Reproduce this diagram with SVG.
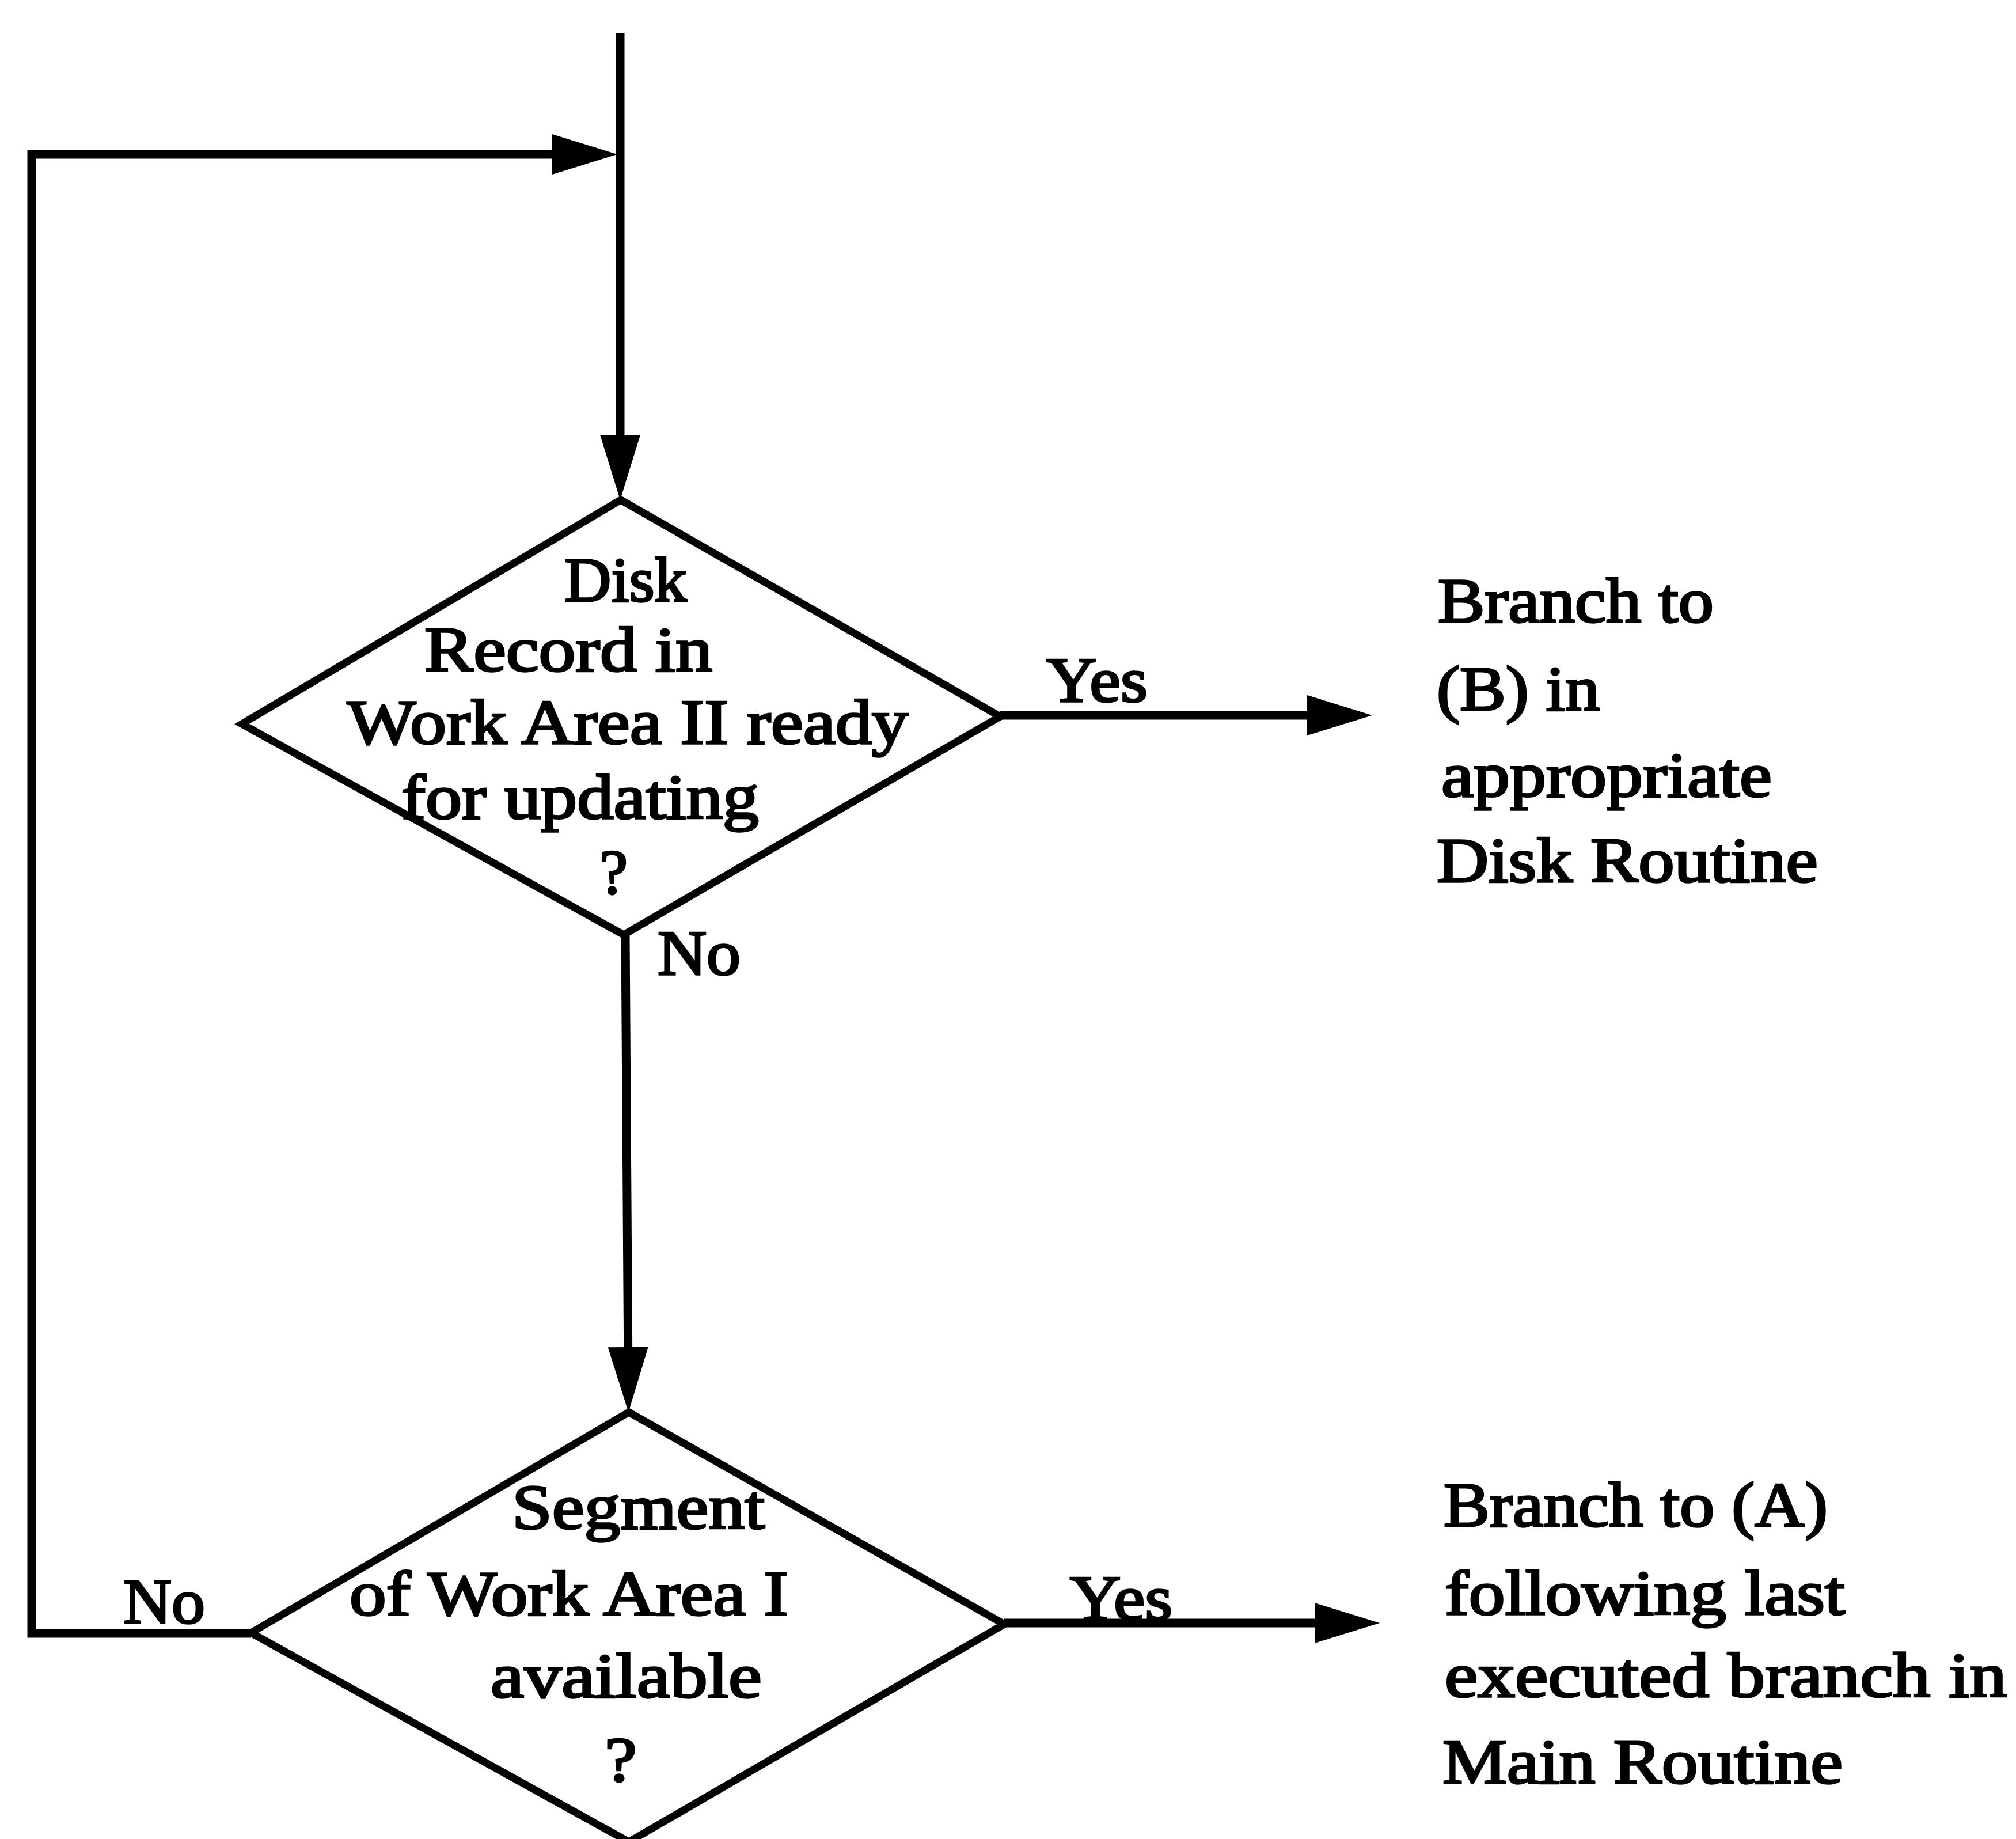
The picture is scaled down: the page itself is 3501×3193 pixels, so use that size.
<svg xmlns="http://www.w3.org/2000/svg" width="3501" height="3193" viewBox="0 0 3501 3193">
<style>
.bg{fill:#fff}
.dia{fill:none;stroke:#000;stroke-width:13;stroke-linejoin:miter}
.con{fill:none;stroke:#000;stroke-width:15;stroke-linecap:butt;stroke-linejoin:miter}
text{font-family:"Liberation Serif","Times New Roman",serif;font-size:110px;fill:#000;stroke:#000;stroke-width:3.5}
</style>
<defs>
<marker id="ah" markerUnits="userSpaceOnUse" markerWidth="113" markerHeight="70" refX="53" refY="35" orient="auto" viewBox="0 0 113 70">
<path d="M0,0 L113,35 L0,70 z" fill="#000"/>
</marker>
</defs>
<rect class="bg" x="0" y="0" width="3501" height="3193"/>
<g id="connectors">
<path class="con" d="M1077,58 L1077,808" marker-end="url(#ah)"/>
<path class="con" d="M436,2836 L55,2836 L55,268 L1012,268" marker-end="url(#ah)"/>
<path class="con" d="M1086,1623 L1091,2392" marker-end="url(#ah)"/>
<path class="con" d="M1737,1242 L2323,1242" marker-end="url(#ah)"/>
<path class="con" d="M1744,2818 L2336,2818" marker-end="url(#ah)"/>
<text x="1817" y="1218" textLength="176" lengthAdjust="spacingAndGlyphs">Yes</text>
<text x="1142" y="1692" textLength="144" lengthAdjust="spacingAndGlyphs">No</text>
<text x="1858" y="2812" textLength="178" lengthAdjust="spacingAndGlyphs">Yes</text>
<text x="214" y="2818" textLength="142" lengthAdjust="spacingAndGlyphs">No</text>
</g>
<g id="decision1">
<polygon class="dia" points="1078,868 1737,1244 1083,1623 420,1257"/>
<text x="980" y="1044" textLength="213" lengthAdjust="spacingAndGlyphs">Disk</text>
<text x="737" y="1165" textLength="500" lengthAdjust="spacingAndGlyphs">Record in</text>
<text x="603" y="1291" textLength="974" lengthAdjust="spacingAndGlyphs">Work Area II ready</text>
<text x="697" y="1421" textLength="621" lengthAdjust="spacingAndGlyphs">for updating</text>
<text x="1041" y="1551" textLength="49" lengthAdjust="spacingAndGlyphs">?</text>
</g>
<g id="decision2">
<polygon class="dia" points="1092,2452 1744,2820 1092,3198 436,2835"/>
<text x="889" y="2654" textLength="439" lengthAdjust="spacingAndGlyphs">Segment</text>
<text x="607" y="2804" textLength="762" lengthAdjust="spacingAndGlyphs">of Work Area I</text>
<text x="852" y="2947" textLength="471" lengthAdjust="spacingAndGlyphs">available</text>
<text x="1050" y="3092" textLength="56" lengthAdjust="spacingAndGlyphs">?</text>
</g>
<g id="terminalB">
<text x="2497" y="1080" textLength="479" lengthAdjust="spacingAndGlyphs">Branch to</text>
<text x="2495" y="1233" textLength="283" lengthAdjust="spacingAndGlyphs">(B) in</text>
<text x="2503" y="1383" textLength="574" lengthAdjust="spacingAndGlyphs">appropriate</text>
<text x="2495" y="1531" textLength="662" lengthAdjust="spacingAndGlyphs">Disk Routine</text>
</g>
<g id="terminalA">
<text x="2507" y="2650" textLength="667" lengthAdjust="spacingAndGlyphs">Branch to (A)</text>
<text x="2509" y="2803" textLength="695" lengthAdjust="spacingAndGlyphs">following last</text>
<text x="2509" y="2946" textLength="976" lengthAdjust="spacingAndGlyphs">executed branch in</text>
<text x="2505" y="3096" textLength="695" lengthAdjust="spacingAndGlyphs">Main Routine</text>
</g>
</svg>
